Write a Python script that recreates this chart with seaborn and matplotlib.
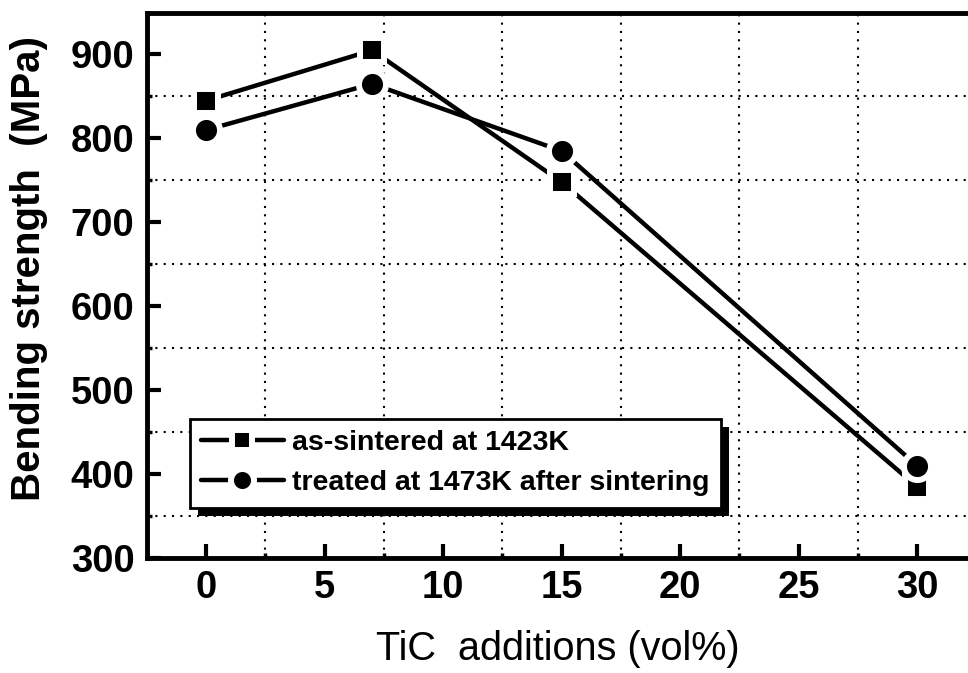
import numpy as np
import pandas as pd
import seaborn as sns
import matplotlib
matplotlib.use("Agg")
import matplotlib.pyplot as plt
from matplotlib.ticker import FixedLocator, MultipleLocator
from matplotlib.patches import Rectangle

# ---- data ----
tic_vol = [0, 7, 15, 30]
as_sintered = [845, 905, 748, 385]
treated = [810, 865, 785, 410]
series_labels = ["as-sintered at 1423K", "treated at 1473K after sintering"]
x_ticks = [0, 5, 10, 15, 20, 25, 30]
y_ticks = [300, 400, 500, 600, 700, 800, 900]

sns.set_style("white")
plt.rcParams["font.family"] = ["Liberation Sans", "DejaVu Sans"]
plt.rcParams["text.color"] = "black"
plt.rcParams["axes.labelcolor"] = "black"
plt.rcParams["xtick.color"] = "black"
plt.rcParams["ytick.color"] = "black"

fig = plt.figure(figsize=(9.68, 6.73), dpi=100)
ax = fig.add_axes([147 / 968, 115 / 673, 821 / 968, 545.5 / 673])

common = dict(ax=ax, color="black", markeredgecolor="white", markeredgewidth=4.3,
              linewidth=3.2, zorder=3)
sns.lineplot(x=tic_vol, y=as_sintered, marker="s", markersize=17.5,
             label=series_labels[0], **common)
sns.lineplot(x=tic_vol, y=treated, marker="o", markersize=19.5,
             label=series_labels[1], **common)

ax.set_xlim(-2.5, 32.15)
ax.set_ylim(300, 950)
ax.xaxis.set_major_locator(FixedLocator(x_ticks))
ax.xaxis.set_minor_locator(MultipleLocator(2.5))
ax.yaxis.set_major_locator(FixedLocator(y_ticks))
ax.yaxis.set_minor_locator(MultipleLocator(50))
ax.set_xticklabels([str(v) for v in x_ticks])
ax.set_yticklabels([str(v) for v in y_ticks])

ax.tick_params(which="major", direction="in", length=10, width=3,
               labelsize=27.5, pad=9, top=False, right=False, bottom=True, left=True)
ax.tick_params(which="minor", direction="in", length=3.5, width=2.5,
               top=False, right=False, bottom=True, left=True)
for lab in ax.get_xticklabels() + ax.get_yticklabels():
    lab.set_fontweight("bold")

ax.grid(which="major", visible=False)
ax.grid(which="minor", color="black", linestyle=(0, (1, 3)), linewidth=1.5)
ax.set_axisbelow(True)

for side in ["left", "bottom", "top"]:
    ax.spines[side].set_linewidth(3.5)
    ax.spines[side].set_color("black")
ax.spines["right"].set_visible(False)

ax.set_xlabel("TiC  additions (vol%)", fontsize=28.5, labelpad=17)
ax.set_ylabel("Bending strength  (MPa)", fontsize=29, fontweight="bold")
ax.yaxis.set_label_coords(-0.12, 0.53)

leg = ax.legend(loc="lower left", bbox_to_anchor=(0.052, 0.092),
                prop={"size": 20.5, "weight": "bold"}, frameon=True, fancybox=False,
                edgecolor="black", framealpha=1, handlelength=2.9,
                handletextpad=0.3, borderpad=0.4, labelspacing=0.5,
                markerscale=0.85, borderaxespad=0)
leg.get_frame().set_linewidth(2)

fig.canvas.draw()
renderer = fig.canvas.get_renderer()
bb = leg.get_frame().get_window_extent(renderer)
inv = ax.transAxes.inverted()
x0, y0 = inv.transform((bb.x0 + 8, bb.y0 - 8))
x1, y1 = inv.transform((bb.x1 + 8, bb.y1 - 8))
ax.add_patch(Rectangle((x0, y0), x1 - x0, y1 - y0, transform=ax.transAxes,
                       facecolor="black", edgecolor="none", zorder=4.9, clip_on=False))

fig.savefig("out.png", dpi=100)
